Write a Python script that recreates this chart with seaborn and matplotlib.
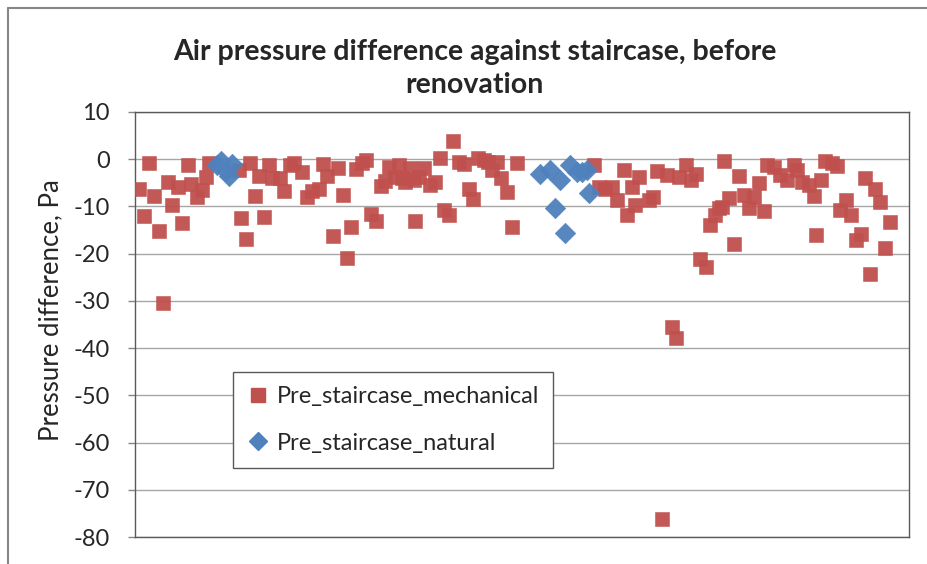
import numpy as np
import pandas as pd
import seaborn as sns
import matplotlib.pyplot as plt
from matplotlib.lines import Line2D

# sample index (x) and pressure difference (Pa)
mech_x = [0.8, 1.7, 2.7, 3.7, 4.7, 5.5, 6.5, 7.4, 8.5, 9.4, 10.5, 11.2, 12.3, 13.3, 14.1, 14.8,
          20.7, 21.1, 22.1, 23.0, 23.9, 24.7, 25.8, 26.7, 27.3, 29.0, 29.8, 30.9, 31.8, 33.3,
          34.3, 35.3, 36.7, 37.5, 38.3, 39.5, 40.5, 41.5, 42.3, 43.2, 44.2, 45.3, 46.2, 47.1,
          48.1, 49.1, 50.0, 50.7, 52.0, 52.7, 53.3, 54.0, 55.0, 55.7, 56.0, 56.7, 57.7, 59.0,
          60.0, 60.9, 61.7, 62.7, 63.5, 64.7, 65.7, 66.7, 67.5, 68.5, 69.7, 70.5, 71.3, 72.3,
          73.1, 74.3, 75.3, 76.3,
          91.7, 92.7, 94.0, 95.3, 96.3, 97.7, 98.3, 99.3, 100.0, 100.7, 102.7, 103.5, 104.3,
          105.3, 106.3, 107.3, 108.1, 108.7, 110.2, 111.1, 112.2, 113.0, 114.1, 115.0, 116.0,
          116.7, 117.3, 117.8, 118.7, 119.8, 120.8, 121.7, 122.7, 123.8, 124.7, 125.7, 126.3,
          127.7, 129.0, 130.3, 131.7, 132.3, 133.3, 134.7, 135.7, 136.2, 137.2, 138.0, 139.3,
          140.3, 141.0, 142.2, 143.2, 144.2, 145.1, 146.0, 146.9, 148.0, 149.0, 149.9, 150.9]
mech_y = [-6.2, -12.0, -0.7, -7.7, -15.1, -30.5, -4.8, -9.6, -5.8, -13.6, -1.2, -5.3, -7.9, -6.5, -3.7, -0.9,
          -2.3, -12.5, -16.8, -0.9, -7.8, -3.6, -12.2, -1.2, -4.0, -4.0, -6.7, -1.2, -0.7, -2.6,
          -8.1, -6.7, -6.4, -1.0, -3.6, -16.2, -1.9, -7.6, -21.0, -14.3, -2.1, -0.9, -0.2, -11.7,
          -13.0, -5.6, -4.6, -1.6, -3.7, -1.2, -4.0, -4.8, -1.9, -4.4, -13.0, -3.7, -1.9, -5.5,
          -4.8, 0.2, -10.8, -11.8, 3.9, -0.5, -1.0, -6.2, -8.4, 0.2, -0.2, -0.5, -2.3, -0.5,
          -4.0, -6.9, -14.3, -0.7,
          -1.2, -5.8, -6.2, -5.8, -8.6, -2.3, -11.8, -5.8, -9.7, -3.7, -8.6, -8.1, -2.4,
          -76.1, -3.3, -35.6, -37.8, -3.7, -1.2, -4.4, -3.1, -21.2, -22.8, -13.9, -11.8,
          -10.4, -10.2, -0.4, -8.2, -18.0, -3.6, -7.6, -10.4, -7.9, -5.0, -10.9, -1.2,
          -1.6, -3.3, -4.3, -1.2, -2.3, -4.8, -5.5, -7.8, -16.1, -4.4, -0.3, -0.7,
          -1.4, -10.8, -8.6, -11.8, -17.0, -15.8, -4.0, -24.3, -6.2, -9.0, -18.9, -13.2]

nat_x = [16.4, 17.2, 18.2, 18.8, 19.4, 80.9, 83.0, 84.0, 85.0, 86.0, 87.0, 88.3, 89.3, 90.3, 90.7]
nat_y = [-1.2, -0.3, -2.5, -3.5, -1.0, -3.1, -2.3, -10.4, -4.4, -15.7, -1.2, -2.6, -2.6, -2.3, -7.2]

series = ["Pre_staircase_mechanical", "Pre_staircase_natural"]
colors = {"Pre_staircase_mechanical": "#C0504D", "Pre_staircase_natural": "#4F81BD"}
markers = {"Pre_staircase_mechanical": "s", "Pre_staircase_natural": "D"}

df = pd.concat([
    pd.DataFrame({"x": mech_x, "y": mech_y, "series": series[0]}),
    pd.DataFrame({"x": nat_x, "y": nat_y, "series": series[1]}),
])

sns.set_style("white")
plt.rcParams['font.family'] = ['Lato', 'DejaVu Sans']
plt.rcParams['axes.unicode_minus'] = False

fig = plt.figure(figsize=(9.27, 5.64), dpi=100)
ax = fig.add_axes([135 / 927, 1 - 537 / 564, 774 / 927, 425 / 564])

for s, size in zip(series, [100, 110]):
    sub = df[df["series"] == s]
    sns.scatterplot(data=sub, x="x", y="y", ax=ax, color=colors[s], marker=markers[s],
                    s=size, linewidth=0.4, edgecolor=colors[s], alpha=0.95, zorder=3)

ax.set_xlim(0, 154.8)
ax.set_ylim(-80, 10)
ax.set_yticks(np.arange(-80, 11, 10))
ax.set_xticks([])
ax.yaxis.grid(True, color="#a6a6a6", linewidth=1)
ax.set_axisbelow(True)
for sp in ax.spines.values():
    sp.set_color("#595959")
    sp.set_linewidth(1)
ax.tick_params(axis="y", length=5, width=1, color="#868686", labelsize=17, pad=13, left=True)
ax.set_xlabel("")
ax.set_ylabel("")
fig.text(51 / 927, 1 - 310 / 564, "Pressure difference, Pa", rotation=90,
         ha="center", va="center", fontsize=18.5)

handles = [Line2D([], [], linestyle="none", marker=markers[s], color=colors[s],
                  markersize=10 if s == series[0] else 9) for s in series]
ax.legend(handles, series, loc="upper left", bbox_to_anchor=(98 / 774, 165 / 425),
          borderaxespad=0, frameon=True, fancybox=False, edgecolor="#595959",
          fontsize=17, handletextpad=0.35, labelspacing=1.08, borderpad=0.6,
          handlelength=0.9, framealpha=1)

fig.text(0.512, 1 - 68.5 / 564, "Air pressure difference against staircase, before\nrenovation",
         ha="center", va="center", fontsize=20.5, fontweight="bold", linespacing=1.35)

# chart area border (top and left)
fig.add_artist(Line2D([8 / 927, 8 / 927], [0, 1 - 8 / 564], transform=fig.transFigure,
                      color="#868686", linewidth=1.5))
fig.add_artist(Line2D([8 / 927, 1], [1 - 8 / 564, 1 - 8 / 564], transform=fig.transFigure,
                      color="#868686", linewidth=1.5))

fig.savefig("out.png", dpi=100)
